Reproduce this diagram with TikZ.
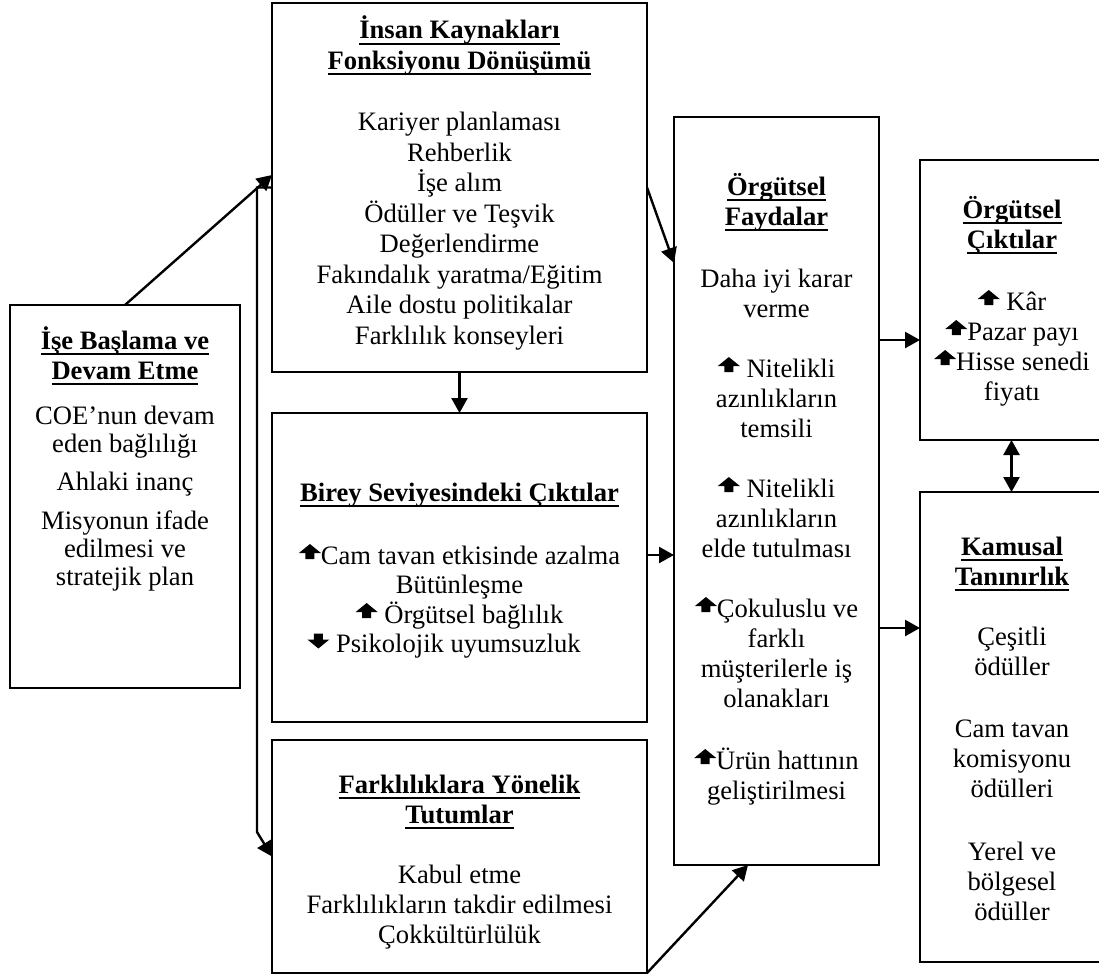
\documentclass[tikz,border=0pt]{standalone}
\usepackage{fontspec}
\setmainfont{Liberation Serif}
\usetikzlibrary{arrows.meta}

% bold heading with an underline at a fixed depth, crossing descenders
\newsavebox{\headbox}
\newcommand{\headline}[1]{\sbox{\headbox}{\textbf{#1}}\rlap{\rule[-5.5pt]{\wd\headbox}{2pt}}\usebox{\headbox}}

\newcommand{\boxfont}[1]{\fontsize{26.6pt}{#1pt}\selectfont\lineskiplimit=-100pt\relax}
\newcommand{\topstrut}{\rule{0pt}{24pt}}
\newcommand{\upmark}{\tikz[x=1pt,y=1pt,baseline=-5pt]\fill (-11,6)--(0,15)--(11,6)--(4.5,6)--(4.5,0)--(-4.5,0)--(-4.5,6)--cycle;}
\newcommand{\downmark}{\tikz[x=1pt,y=1pt,baseline=-4pt]\fill (-4.5,15)--(4.5,15)--(4.5,9)--(11,9)--(0,0)--(-11,9)--(-4.5,9)--cycle;}

\tikzset{
  tipshape/.style={Triangle[length=15pt,width=16pt]},
  box/.style={draw, line width=2.4pt, inner sep=0pt, outer sep=0pt},
  txt/.style={anchor=north, inner sep=0pt, outer sep=0pt, align=center},
  conn/.style={line width=2.4pt, -{Triangle[length=15pt,width=16pt]}},
  bothconn/.style={line width=2.4pt, {Triangle[length=15pt,width=16pt]}-{Triangle[length=15pt,width=16pt]}}
}

\begin{document}
\begin{tikzpicture}[x=1pt,y=-1pt]
\useasboundingbox (0,0) rectangle (1099,976);

% boxes
\node[box, minimum width=230pt, minimum height=383pt] (start) at (125,496.5) {};
\node[box, minimum width=375pt, minimum height=369pt] (hr)    at (459.5,187.5) {};
\node[box, minimum width=375pt, minimum height=309pt] (birey) at (459.5,567.5) {};
\node[box, minimum width=375pt, minimum height=233pt] (fark)  at (459.5,856.5) {};
\node[box, minimum width=205pt, minimum height=748pt] (fay)   at (776.5,491) {};
\node[box, minimum width=183pt, minimum height=280pt] (out)   at (1011.5,300) {};
\node[box, minimum width=183pt, minimum height=470pt] (kam)   at (1011.5,727) {};

% box contents
\node[txt, font=\boxfont{28}] (startT) at (125,325)
  {\topstrut\headline{İşe Başlama ve}\\[2pt]\headline{Devam Etme}\\[17pt]COE’nun devam\\eden bağlılığı\\[10pt]Ahlaki inanç\\[11pt]Misyonun ifade\\edilmesi ve\\stratejik plan};

\node[txt, font=\boxfont{30.5}] (hrT) at (459.5,15)
  {\topstrut\headline{İnsan Kaynakları}\\\headline{Fonksiyonu Dönüşümü}\\[30.5pt]Kariyer planlaması\\Rehberlik\\İşe alım\\Ödüller ve Teşvik\\Değerlendirme\\Fakındalık yaratma/Eğitim\\Aile dostu politikalar\\Farklılık konseyleri};

\node[txt, font=\boxfont{29.5}] (bireyT) at (459.5,477)
  {\topstrut\headline{Birey Seviyesindeki Çıktılar}\\[33.5pt]\upmark Cam tavan etkisinde azalma\hspace*{27pt}\\Bütünleşme\\\upmark\ Örgütsel bağlılık\hspace*{33pt}\\\downmark\ Psikolojik uyumsuzluk\hspace*{31pt}};

\node[txt, font=\boxfont{30}] (farkT) at (459.5,769)
  {\topstrut\headline{Farklılıklara Yönelik}\\\headline{Tutumlar}\\[30pt]Kabul etme\\Farklılıkların takdir edilmesi\\Çokkültürlülük};

\node[txt, font=\boxfont{30}] (fayT) at (776.5,171)
  {\topstrut\headline{Örgütsel}\\\headline{Faydalar}\\[32pt]Daha iyi karar\\verme\\[30pt]\upmark\ Nitelikli\hspace*{27pt}\\azınlıkların\\temsili\\[30pt]\upmark\ Nitelikli\hspace*{27pt}\\azınlıkların\\elde tutulması\\[30pt]\upmark Çokuluslu ve\hspace*{20pt}\\farklı\\müşterilerle iş\\olanakları\\[32pt]\upmark Ürün hattının\hspace*{24pt}\\geliştirilmesi};

\node[txt, font=\boxfont{30}] (outT) at (1012,194)
  {\topstrut\headline{Örgütsel}\\\headline{Çıktılar}\\[32pt]\upmark\ Kâr\hspace*{30pt}\\\upmark Pazar payı\hspace*{28pt}\\\upmark Hisse senedi\hspace*{16pt}\\fiyatı};

\node[txt, font=\boxfont{30}] (kamT) at (1012,531)
  {\topstrut\headline{Kamusal}\\\headline{Tanınırlık}\\[30pt]Çeşitli\\ödüller\\[32pt]Cam tavan\\komisyonu\\ödülleri\\[33pt]Yerel ve\\bölgesel\\ödüller};

% connector helper points
\coordinate (busTop) at (257,187.5);
\coordinate (busBot) at (257,832);
\coordinate (b2f) at ([yshift=12.5pt]birey.east);
\coordinate (f2o) at ([yshift=151pt]fay.east);
\coordinate (f2k) at ([yshift=99pt]kam.west);

% connectors
\draw[conn] (start.north) -- ([yshift=12.5pt]hr.west);
\draw[conn] (hr.west) -- (busTop) -- (busBot) -- (fark.west);
\draw[conn] (hr.south) -- (birey.north);
\draw[conn] (hr.east) -- ([yshift=228pt]fay.west);
\draw[conn] (b2f) -- (b2f -| fay.west);
\draw[conn] (fark.south east) -- ([xshift=-28.5pt]fay.south);
\draw[conn] (f2o) -- (f2o -| out.west);
\draw[conn] (f2k -| fay.east) -- (f2k);
\draw[bothconn] (out.south) -- (kam.north);
\end{tikzpicture}
\end{document}
